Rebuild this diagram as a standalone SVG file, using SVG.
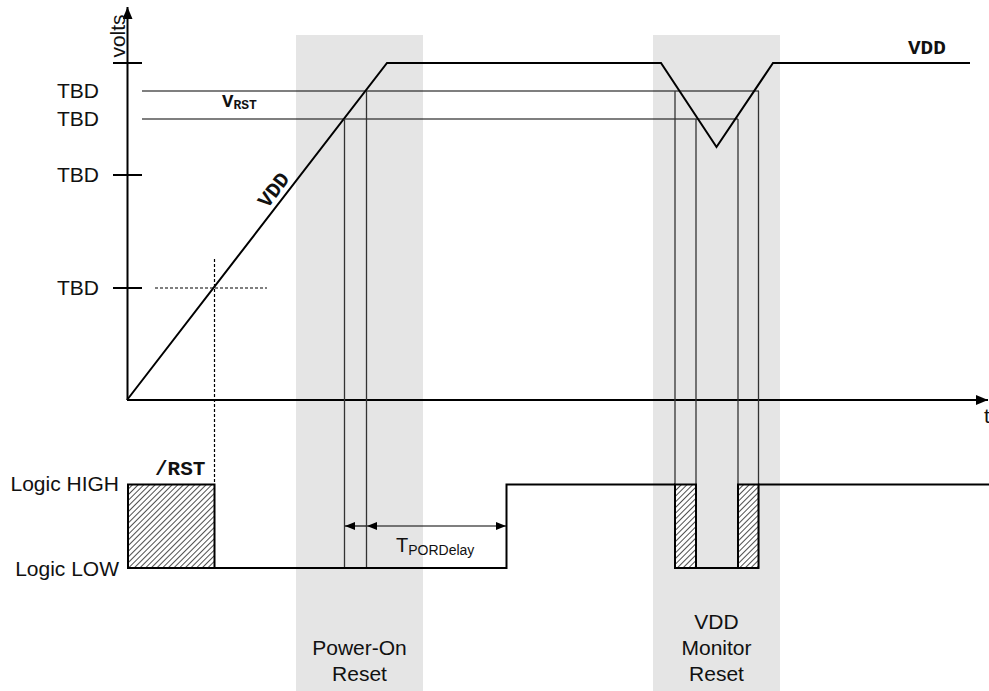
<svg xmlns="http://www.w3.org/2000/svg" width="989" height="691" viewBox="0 0 989 691">
<style>
.sans{font-family:"Liberation Sans",Arial,sans-serif;fill:#111;}
.mono{font-family:"Liberation Mono","Courier New",monospace;font-weight:bold;fill:#111;}
.band{fill:#e5e5e5;}
.thick{stroke:#000;stroke-width:2;fill:none;}
.thin{stroke:#000;stroke-width:1.2;fill:none;}
.vline{stroke:#333;stroke-width:1.3;fill:none;}
.dash{stroke:#000;stroke-width:1.2;stroke-dasharray:3,2;fill:none;}
.hatch{fill:url(#hatch);stroke:#000;stroke-width:2;}
</style>
<defs>
<pattern id="hatch" patternUnits="userSpaceOnUse" width="4" height="4" patternTransform="rotate(45)">
<rect width="4" height="4" fill="#fff"/>
<line x1="0.5" y1="0" x2="0.5" y2="4" stroke="#222" stroke-width="0.8"/>
</pattern>
<marker id="axArrow" viewBox="0 0 12 10" refX="12" refY="5" markerWidth="12" markerHeight="10" markerUnits="userSpaceOnUse" orient="auto">
<path d="M0,0 L12,5 L0,10 Z" fill="#000"/>
</marker>
<marker id="dimArrow" viewBox="0 0 10 8" refX="10" refY="4" markerWidth="10" markerHeight="8" markerUnits="userSpaceOnUse" orient="auto-start-reverse">
<path d="M0,0 L10,4 L0,8 Z" fill="#000"/>
</marker>
</defs>
<rect width="989" height="691" fill="#fff"/>
<g id="bands">
<rect class="band" x="296" y="35" width="127" height="656"/>
<rect class="band" x="653" y="35" width="127" height="656"/>
</g>
<g id="axes">
<line class="thick" x1="127.5" y1="400" x2="127.5" y2="7" marker-end="url(#axArrow)"/>
<line class="thick" x1="127" y1="400" x2="988" y2="400" marker-end="url(#axArrow)"/>
<line class="thick" x1="113" y1="63" x2="142" y2="63"/>
<line class="thick" x1="113" y1="175" x2="142" y2="175"/>
<line class="thick" x1="113" y1="288" x2="142" y2="288"/>
<text class="sans" font-size="21" transform="translate(125,36) rotate(-90)" text-anchor="middle">volts</text>
<text class="sans" font-size="21" x="984" y="423">t</text>
</g>
<g id="levels">
<text class="sans" font-size="21" x="99" y="98" text-anchor="end">TBD</text>
<text class="sans" font-size="21" x="99" y="126" text-anchor="end">TBD</text>
<text class="sans" font-size="21" x="99" y="182" text-anchor="end">TBD</text>
<text class="sans" font-size="21" x="99" y="295" text-anchor="end">TBD</text>
<line class="thin" x1="142" y1="91" x2="759" y2="91"/>
<line class="thin" x1="142" y1="119" x2="738" y2="119"/>
<text class="mono" font-size="19" x="222" y="107">V<tspan font-size="13" dy="1.5">RST</tspan></text>
<line class="dash" x1="155" y1="288" x2="267" y2="288"/>
<line class="dash" x1="214.5" y1="259" x2="214.5" y2="484"/>
</g>
<g id="vdd">
<polyline class="thick" points="127,400 387,63 661,63 716.5,147 773,63 970,63"/>
<text class="mono" font-size="21" x="908" y="54">VDD</text>
<text class="mono" font-size="21" transform="translate(279,194) rotate(-52.3)" text-anchor="middle">VDD</text>
</g>
<g id="connectors">
<line class="vline" x1="344.5" y1="119" x2="344.5" y2="568"/>
<line class="vline" x1="366.5" y1="91" x2="366.5" y2="568"/>
<line class="vline" x1="675" y1="91" x2="675" y2="568"/>
<line class="vline" x1="696" y1="119" x2="696" y2="568"/>
<line class="vline" x1="738" y1="119" x2="738" y2="568"/>
<line class="vline" x1="758.5" y1="91" x2="758.5" y2="568"/>
<line class="thin" x1="366" y1="526" x2="345" y2="526" marker-end="url(#dimArrow)"/>
<line class="thin" x1="367" y1="526" x2="506" y2="526" marker-start="url(#dimArrow)" marker-end="url(#dimArrow)"/>
</g>
<g id="rst">
<rect class="hatch" x="128" y="484.5" width="86.5" height="83.5"/>
<rect class="hatch" x="675" y="484.5" width="21" height="83.5"/>
<rect class="hatch" x="738" y="484.5" width="20.5" height="83.5"/>
<polyline class="thick" points="214.5,568 506.5,568 506.5,484.5 675,484.5"/>
<line class="thick" x1="696" y1="568" x2="738" y2="568"/>
<line class="thick" x1="758.5" y1="484.5" x2="989" y2="484.5"/>
<text class="mono" font-size="21" x="155" y="475">/RST</text>
<text class="sans" font-size="21" x="119" y="491" text-anchor="end">Logic HIGH</text>
<text class="sans" font-size="21" x="119" y="576" text-anchor="end">Logic LOW</text>
<text class="sans" font-size="20" x="396" y="552">T<tspan font-size="14" dy="3">PORDelay</tspan></text>
</g>
<g id="labels">
<text class="sans" font-size="21" x="359.5" y="655" text-anchor="middle">Power-On</text>
<text class="sans" font-size="21" x="359.5" y="681" text-anchor="middle">Reset</text>
<text class="sans" font-size="21" x="716.5" y="629" text-anchor="middle">VDD</text>
<text class="sans" font-size="21" x="716.5" y="655" text-anchor="middle">Monitor</text>
<text class="sans" font-size="21" x="716.5" y="681" text-anchor="middle">Reset</text>
</g>
</svg>
